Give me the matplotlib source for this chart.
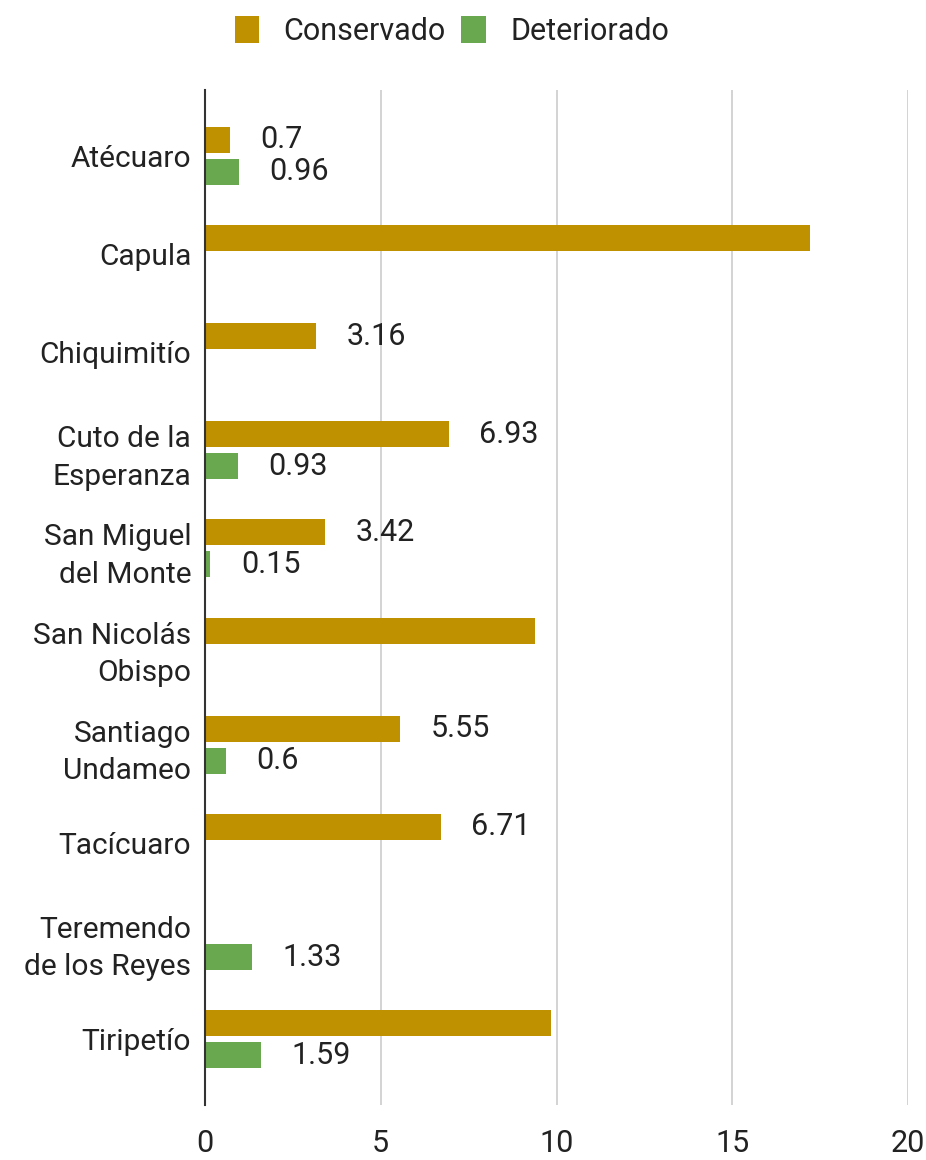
import numpy as np
import matplotlib.pyplot as plt

# datos
lugares = ['Atécuaro', 'Capula', 'Chiquimitío', 'Cuto de la\nEsperanza',
           'San Miguel\ndel Monte', 'San Nicolás\nObispo', 'Santiago\nUndameo',
           'Tacícuaro', 'Teremendo\nde los Reyes', 'Tiripetío']
conservado = [0.7, 17.2, 3.16, 6.93, 3.42, 9.39, 5.55, 6.71, 0, 9.84]
deteriorado = [0.96, 0, 0, 0.93, 0.15, 0, 0.6, 0, 1.33, 1.59]
etiq_cons = ['0.7', '', '3.16', '6.93', '3.42', '', '5.55', '6.71', '', '']
etiq_det = ['0.96', '', '', '0.93', '0.15', '', '0.6', '', '1.33', '1.59']
xticks = [0, 5, 10, 15, 20]

plt.rcParams['font.family'] = ['Roboto', 'DejaVu Sans']

fig = plt.figure(figsize=(9.26, 11.6), dpi=100)
ax = fig.add_axes([0.2214, 0.0474, 0.7592, 0.875])

y = np.arange(len(lugares))
h = 0.265
off = 0.163
b1 = ax.barh(y - off, conservado, height=h, color='#bf9000', label='Conservado')
b2 = ax.barh(y + off, deteriorado, height=h, color='#6aa84f', label='Deteriorado')

for bars, etiq in [(b1, etiq_cons), (b2, etiq_det)]:
    for bar, txt in zip(bars, etiq):
        if txt:
            ax.annotate(txt, (bar.get_width(), bar.get_y() + bar.get_height() / 2),
                        xytext=(22, 0), textcoords='offset points',
                        va='center', ha='left', fontsize=22, color='#222222')

ax.set_ylim(len(lugares) - 1 + 0.67, -0.67)
ax.set_xlim(0, 20)
ax.set_yticks(y)
ax.set_yticklabels(lugares, fontsize=21.5, color='#222222', linespacing=1.42)
ax.set_xticks(xticks)
ax.set_xticklabels([str(t) for t in xticks], fontsize=22, color='#222222')
ax.tick_params(length=0, pad=10)
ax.tick_params(axis='x', pad=17)

ax.grid(axis='x', color='#cccccc', linewidth=1.2)
ax.set_axisbelow(True)
for s in ['top', 'right', 'bottom']:
    ax.spines[s].set_visible(False)
ax.spines['left'].set_color('#333333')
ax.spines['left'].set_linewidth(1.5)
ax.spines['left'].set_zorder(3)
ax.xaxis.get_gridlines()[0].set_visible(False)

fig.legend(handles=[b1, b2], loc='center', bbox_to_anchor=(0.488, 0.973), ncol=2,
           frameon=False, fontsize=22, handlelength=0.8, handleheight=0.95,
           handletextpad=0.8, columnspacing=0.5, labelcolor='#222222')

plt.savefig('out.png', dpi=100)
